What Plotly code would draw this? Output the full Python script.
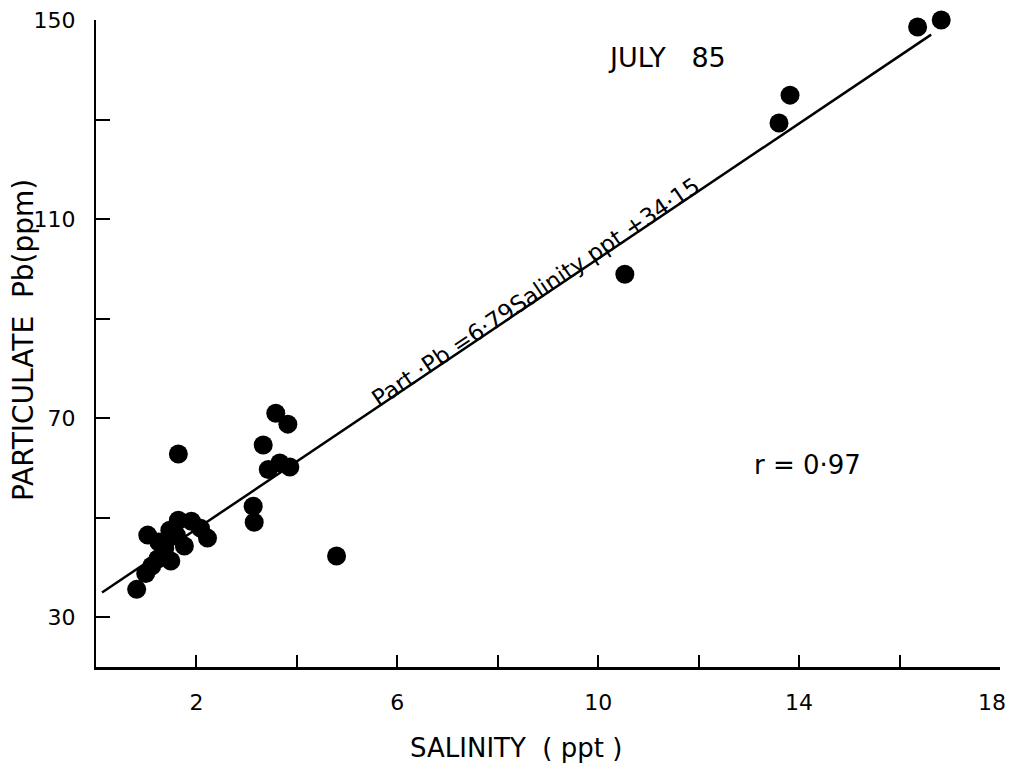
import plotly.graph_objects as go

# Salinity (ppt) and particulate lead (ppm) samples, July 1985
salinity = [0.81, 0.99, 1.11, 1.23, 1.03, 1.25, 1.37, 1.49, 1.47, 1.64,
            1.90, 2.08, 2.22, 1.76, 1.60, 1.64, 3.33, 3.58, 3.82, 3.43,
            3.66, 3.86, 3.13, 3.15, 4.79, 10.53, 13.60, 13.82, 16.36, 16.83]
part_pb = [35.6, 38.8, 40.3, 41.7, 46.5, 45.1, 43.9, 41.3, 47.5, 49.5,
           49.3, 47.9, 45.9, 44.3, 46.5, 62.8, 64.6, 71.0, 68.8, 59.7,
           61.0, 60.2, 52.3, 49.1, 42.3, 98.9, 129.3, 134.9, 148.6, 150.0]

# Regression: Part.Pb = 6.79 * Salinity + 34.15
fit_slope = 6.79
fit_intercept = 34.15
fit_x = [0.12, 16.63]
fit_y = [fit_slope * s + fit_intercept for s in fit_x]

x_ticks = [2, 4, 6, 8, 10, 12, 14, 16, 18]
x_labels = ["2", "", "6", "", "10", "", "14", "", ""]
x_end_label = "18"
y_ticks = [30, 50, 70, 90, 110, 130, 150]
y_labels = ["30", "", "70", "", "110", "", "150"]

FONT = "DejaVu Sans"
INK = "black"

fig = go.Figure()
fig.add_trace(go.Scatter(x=fit_x, y=fit_y, mode="lines",
                         line=dict(color=INK, width=2.5),
                         hoverinfo="skip", cliponaxis=False))
fig.add_trace(go.Scatter(x=salinity, y=part_pb, mode="markers",
                         marker=dict(color=INK, size=19, line=dict(width=0)),
                         cliponaxis=False))

fig.update_layout(
    width=1009, height=772,
    margin=dict(l=96, r=9, t=20, b=105, autoexpand=False),
    paper_bgcolor="white", plot_bgcolor="white",
    showlegend=False,
    font=dict(family=FONT, color=INK),
    xaxis=dict(range=[0, 18.0005], tickvals=x_ticks, ticktext=x_labels,
               ticks="inside", ticklen=12, tickwidth=1.5, tickcolor=INK,
               showline=True, linecolor=INK, linewidth=2.5,
               showgrid=False, zeroline=False, ticklabelstandoff=14,
               ticklabeloverflow="allow", automargin=False,
               tickfont=dict(size=22, family=FONT, color=INK)),
    yaxis=dict(range=[20, 150], tickvals=y_ticks, ticktext=y_labels,
               ticks="inside", ticklen=14, tickwidth=2.2, tickcolor=INK,
               showline=True, linecolor=INK, linewidth=2,
               showgrid=False, zeroline=False, ticklabelstandoff=14,
               ticklabeloverflow="allow", automargin=False,
               tickfont=dict(size=22, family=FONT, color=INK)),
)

# Last x tick label, nudged inward so it stays on the page
fig.add_annotation(x=18, y=0, xref="x", yref="paper", yanchor="top",
                   xanchor="center", xshift=-8, yshift=-21, showarrow=False,
                   text=x_end_label, font=dict(size=22, family=FONT, color=INK))

annots = [
    dict(text="SALINITY  ( ppt )", x=516, y=748, size=26),
    dict(text="PARTICULATE  Pb(ppm)", x=24, y=340, size=28, textangle=-90),
    dict(text="JULY   85", x=667, y=57, size=27),
    dict(text="r = 0·97", x=807, y=465, size=26),
]
for a in annots:
    fig.add_annotation(xref="paper", yref="paper",
                       x=(a["x"] - 96) / 904, y=1 - (a["y"] - 20) / 647,
                       xanchor="center", yanchor="middle", showarrow=False,
                       text=a["text"], font=dict(size=a["size"], family=FONT, color=INK),
                       textangle=a.get("textangle", 0))

# Equation written along the regression line
eq_x = 8.6
fig.add_annotation(x=eq_x, y=fit_slope * eq_x + fit_intercept,
                   xref="x", yref="y", showarrow=False,
                   text="Part ·Pb =6·79Salinity ppt +34·15",
                   font=dict(size=23, family=FONT, color=INK), textangle=-34,
                   xshift=8, yshift=14, xanchor="center", yanchor="middle")

fig.write_html("out.html")
